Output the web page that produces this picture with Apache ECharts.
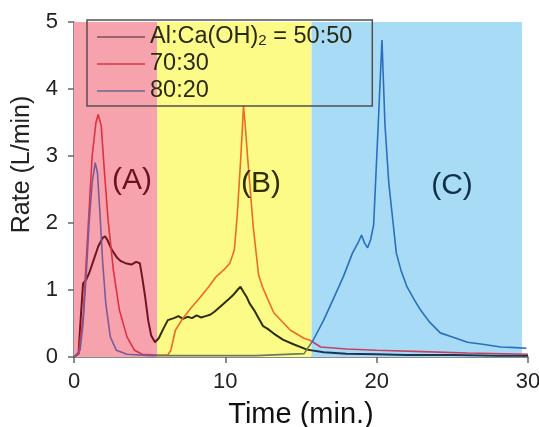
<!DOCTYPE html>
<html>
<head>
<meta charset="utf-8">
<script src="https://cdn.jsdelivr.net/npm/echarts@6/dist/echarts.min.js"></script>
<style>html,body{margin:0;padding:0;background:#fff;}#c{width:539px;height:427px;}</style>
</head>
<body>
<div id="c"></div>
<script>
// ---- data ----
var seriesNames = ['50:50', '70:30', '80:20'];
var xTicks = [0, 10, 20, 30];
var yTicks = [0, 1, 2, 3, 4, 5];
var regionNames = ['(A)', '(B)', '(C)'];
var regionBounds = [0, 5.5, 15.7, 29.6];

var t5050 = [0, 0.3, 0.45, 0.6, 0.8, 1.0, 1.3, 1.6, 1.9, 2.05, 2.2, 2.5, 2.85, 3.1, 3.4, 3.8, 4.1, 4.35, 4.5, 4.7, 4.9, 5.1, 5.35, 5.6, 5.9, 6.2, 6.6, 6.9, 7.2, 7.5, 7.8, 8.1, 8.4, 8.7, 9.0, 9.3, 9.6, 9.9, 10.2, 10.5, 10.8, 11.0, 11.2, 11.4, 11.6, 11.9, 12.2, 12.5, 12.8, 13.2, 13.8, 14.5, 15.4, 16.5, 18, 20, 22, 25, 28, 30];
var r5050 = [0, 0.05, 0.6, 1.1, 1.15, 1.25, 1.45, 1.65, 1.78, 1.8, 1.75, 1.6, 1.48, 1.43, 1.4, 1.38, 1.42, 1.4, 1.2, 0.9, 0.55, 0.32, 0.22, 0.28, 0.42, 0.55, 0.58, 0.61, 0.57, 0.6, 0.58, 0.62, 0.59, 0.61, 0.63, 0.68, 0.74, 0.8, 0.86, 0.92, 1.0, 1.05, 0.97, 0.9, 0.8, 0.7, 0.58, 0.46, 0.42, 0.35, 0.26, 0.19, 0.11, 0.07, 0.05, 0.04, 0.03, 0.03, 0.02, 0.02];

var t7030 = [0, 0.3, 0.6, 0.9, 1.2, 1.45, 1.6, 1.8, 2.0, 2.25, 2.6, 3.0, 3.5, 4.0, 4.5, 5.5, 6.2, 6.4, 6.7, 7.2, 7.8, 8.3, 8.9, 9.4, 9.9, 10.3, 10.6, 10.8, 11.0, 11.1, 11.2, 11.3, 11.5, 11.85, 12.2, 12.5, 13.2, 14.3, 15.2, 15.6, 16.3, 18, 20, 23, 26, 30];
var r7030 = [0, 0.05, 0.6, 1.8, 3.0, 3.5, 3.62, 3.45, 2.8, 2.05, 1.3, 0.7, 0.3, 0.1, 0.04, 0.03, 0.03, 0.1, 0.4, 0.58, 0.75, 0.88, 1.05, 1.2, 1.3, 1.4, 1.6, 2.16, 2.9, 3.3, 3.75, 3.5, 2.9, 1.93, 1.22, 1.02, 0.66, 0.4, 0.28, 0.25, 0.15, 0.12, 0.1, 0.08, 0.06, 0.04];

var t8020 = [0, 0.4, 0.6, 0.8, 1.0, 1.2, 1.4, 1.55, 1.7, 1.9, 2.1, 2.4, 2.8, 3.5, 5, 8, 12, 15.2, 15.8, 16.5, 17.1, 17.8, 18.4, 18.8, 19.0, 19.2, 19.4, 19.6, 19.8, 20.1, 20.35, 20.55, 20.8, 21.1, 21.3, 21.6, 22.0, 22.5, 22.9, 23.5, 24.2, 25, 26, 27, 28.2, 29.2, 29.9];
var r8020 = [0, 0.1, 0.5, 1.2, 2.0, 2.6, 2.9, 2.75, 2.2, 1.4, 0.8, 0.3, 0.1, 0.04, 0.02, 0.02, 0.02, 0.05, 0.25, 0.55, 0.85, 1.2, 1.55, 1.72, 1.82, 1.7, 1.63, 1.75, 1.97, 3.46, 4.73, 3.46, 2.6, 1.97, 1.55, 1.3, 1.05, 0.85, 0.7, 0.52, 0.36, 0.3, 0.22, 0.19, 0.15, 0.14, 0.13];

// ---- styles ----
var FONT = '"Liberation Sans", Arial, sans-serif';
var bgColors = ['#f7a3ae', '#fdfb88', '#a8dbf6'];
var lineRegionColors = [
  ['#6e1423', '#2e2e00', '#1a3550'],
  ['#e0303f', '#f06a20', '#c84060'],
  ['#7a5a9a', '#6a7a60', '#2a6ec0']
];
var legendColors = ['#9a6470', '#e0505c', '#8c7896'];
var labelColors = ['#6a1020', '#2e2e00', '#10304a'];

function pairs(t, r) { return t.map(function (v, i) { return [v, r[i]]; }); }
var allData = [pairs(t5050, r5050), pairs(t7030, r7030), pairs(t8020, r8020)];

var chart = echarts.init(document.getElementById('c'));

var series = [{
  type: 'line', name: 'bg', data: [], z: 1, silent: true,
  markArea: {
    silent: true,
    data: [0, 1, 2].map(function (i) {
      return [{ xAxis: regionBounds[i], yAxis: 0, itemStyle: { color: bgColors[i], opacity: 1 } },
              { xAxis: regionBounds[i + 1], yAxis: 5 }];
    })
  }
}];
seriesNames.forEach(function (n, i) {
  series.push({
    type: 'line', name: n, data: allData[i], z: 3,
    showSymbol: false, symbol: 'none', smooth: false,
    lineStyle: { width: i === 0 ? 2 : 1.6 },
    itemStyle: { color: legendColors[i] }
  });
});

var visualMaps = seriesNames.map(function (n, i) {
  return {
    show: false, type: 'piecewise', dimension: 0, seriesIndex: i + 1,
    pieces: [
      { lt: regionBounds[1], color: lineRegionColors[i][0] },
      { gte: regionBounds[1], lt: regionBounds[2], color: lineRegionColors[i][1] },
      { gte: regionBounds[2], color: lineRegionColors[i][2] }
    ]
  };
});

var graphics = regionNames.map(function (s, i) {
  var pos = [[132, 181], [261, 184], [452, 186]][i];
  return {
    type: 'text', x: pos[0], y: pos[1], z: 10,
    style: { text: s, font: '30px ' + FONT, fill: labelColors[i], textAlign: 'center', textVerticalAlign: 'middle' }
  };
});

chart.setOption({
  animation: false,
  backgroundColor: '#fff',
  grid: { left: 74, right: 11, top: 22, bottom: 70, containLabel: false, outerBoundsMode: 'none' },
  xAxis: {
    type: 'value', min: 0, max: 30, interval: 10,
    name: 'Time (min.)', nameLocation: 'middle', nameGap: 43,
    nameTextStyle: { fontSize: 29, color: '#111', fontFamily: FONT },
    axisLine: { show: true, lineStyle: { color: '#666', width: 1.5 } },
    axisTick: { show: true, inside: false, length: 6, lineStyle: { color: '#666', width: 1.5 } },
    axisLabel: { fontSize: 22, color: '#222', fontFamily: FONT, margin: 14,
      formatter: function (v) { return xTicks.indexOf(v) >= 0 ? String(v) : ''; } },
    splitLine: { show: false }
  },
  yAxis: {
    type: 'value', min: 0, max: 5, interval: 1,
    name: 'Rate (L/min)', nameLocation: 'middle', nameGap: 36, nameRotate: 90,
    nameTextStyle: { fontSize: 25, color: '#222', fontFamily: FONT, padding: [0, 0, 0, 50] },
    axisLine: { show: true, lineStyle: { color: '#666', width: 1.5 } },
    axisTick: { show: true, inside: false, length: 6, lineStyle: { color: '#666', width: 1.5 } },
    axisLabel: { fontSize: 22, color: '#222', fontFamily: FONT, margin: 16,
      formatter: function (v) { return yTicks.indexOf(v) >= 0 ? String(v) : ''; } },
    splitLine: { show: false }
  },
  legend: {
    show: true, orient: 'vertical', left: 87, top: 20,
    padding: [5, 20, 3, 10], itemGap: 3, itemWidth: 48, itemHeight: 2, itemTextGap: 8,
    icon: 'rect',
    borderColor: '#505050', borderWidth: 1.5, backgroundColor: 'transparent',
    data: seriesNames.map(function (n, i) { return { name: n, itemStyle: { color: legendColors[i] } }; }),
    textStyle: { fontSize: 23.5, lineHeight: 22, color: '#2a2a14', fontFamily: FONT,
      rich: { sub: { fontSize: 15, lineHeight: 2, verticalAlign: 'bottom', color: '#2a2a14', fontFamily: FONT } } },
    formatter: function (n) { return n === '50:50' ? 'Al:Ca(OH){sub|2} = 50:50' : n; }
  },
  visualMap: visualMaps,
  series: series,
  graphic: graphics
});
</script>
</body>
</html>
